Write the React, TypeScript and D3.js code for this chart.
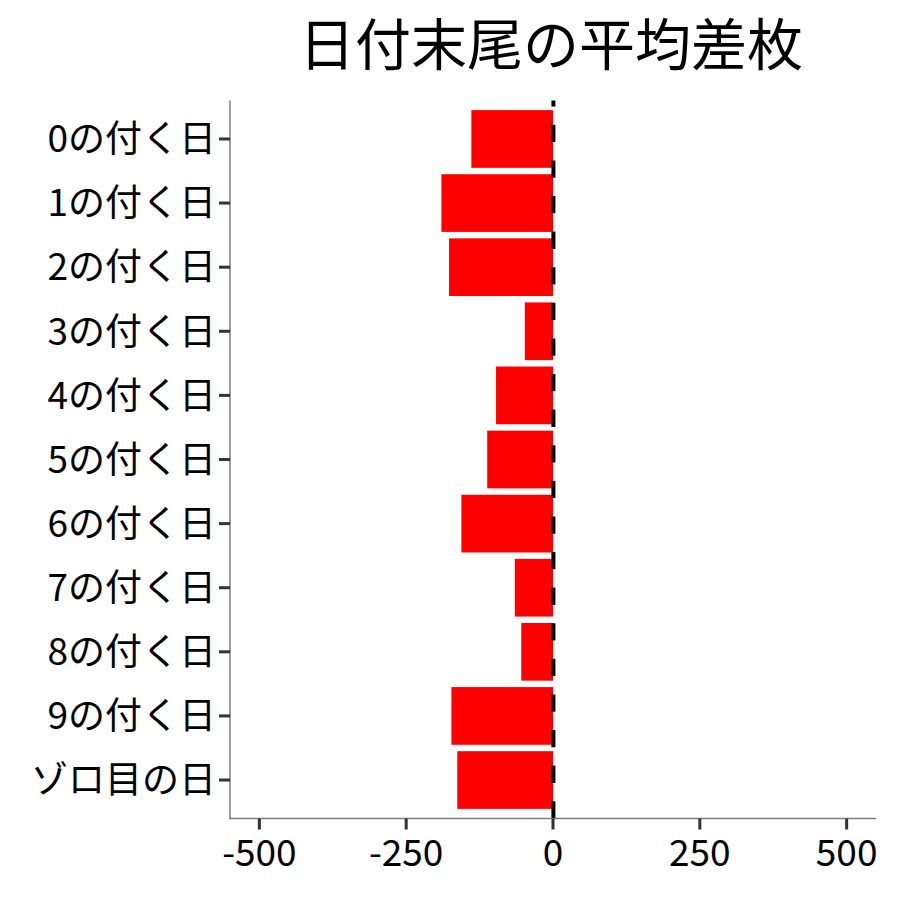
import React from "react";
import * as d3 from "d3";

const categories = [
  "0の付く日",
  "1の付く日",
  "2の付く日",
  "3の付く日",
  "4の付く日",
  "5の付く日",
  "6の付く日",
  "7の付く日",
  "8の付く日",
  "9の付く日",
  "ゾロ目の日",
];
const values = [-139, -190, -177, -48, -97, -112, -156, -65, -54, -173, -163];
const xTicks = [-500, -250, 0, 250, 500];
const title = "日付末尾の平均差枚";

const W = 900;
const H = 900;
const left = 230;
const right = 876;
const top = 100.5;
const bottom = 818.5;
const FONT = "'Noto Sans CJK JP', 'Noto Sans', sans-serif";

export default function App() {
  const x = d3.scaleLinear().domain([-550, 550]).range([left, right]);
  const y = d3
    .scaleBand<string>()
    .domain(categories)
    .range([top, bottom])
    .paddingInner(0.1)
    .paddingOuter(0.15);

  return (
    <svg
      width={W}
      height={H}
      style={{ position: "absolute", left: 0, top: 0, background: "#fff" }}
      fontFamily={FONT}
    >
      <text x={551} y={65} textAnchor="middle" fontSize={56} fill="#000">
        {title}
      </text>
      {categories.map((c, i) => (
        <rect
          key={c}
          x={x(Math.min(0, values[i]))}
          y={y(c)}
          width={Math.abs(x(values[i]) - x(0))}
          height={y.bandwidth()}
          fill="#ff0000"
        />
      ))}
      <line
        x1={x(0) + 0.4}
        x2={x(0) + 0.4}
        y1={bottom}
        y2={top}
        stroke="#000"
        strokeWidth={4}
        strokeDasharray="17.3 18.3"
      />
      {/* axes */}
      <line x1={left} x2={left} y1={top} y2={bottom + 0.75} stroke="#7f7f7f" strokeWidth={1.5} />
      <line x1={left - 0.75} x2={right} y1={bottom} y2={bottom} stroke="#7f7f7f" strokeWidth={1.5} />
      {categories.map((c) => {
        const cy = (y(c) as number) + y.bandwidth() / 2;
        return (
          <g key={c}>
            <line x1={left - 11} x2={left} y1={cy} y2={cy} stroke="#333" strokeWidth={3} />
            <text x={left - 14} y={cy} dy="0.36em" textAnchor="end" fontSize={37} fill="#000">
              {c}
            </text>
          </g>
        );
      })}
      {xTicks.map((t) => (
        <g key={t}>
          <line x1={x(t)} x2={x(t)} y1={bottom} y2={bottom + 11} stroke="#333" strokeWidth={3} />
          <text x={x(t)} y={bottom + 21} dy="0.72em" textAnchor="middle" fontSize={37} fill="#000">
            {t}
          </text>
        </g>
      ))}
    </svg>
  );
}
